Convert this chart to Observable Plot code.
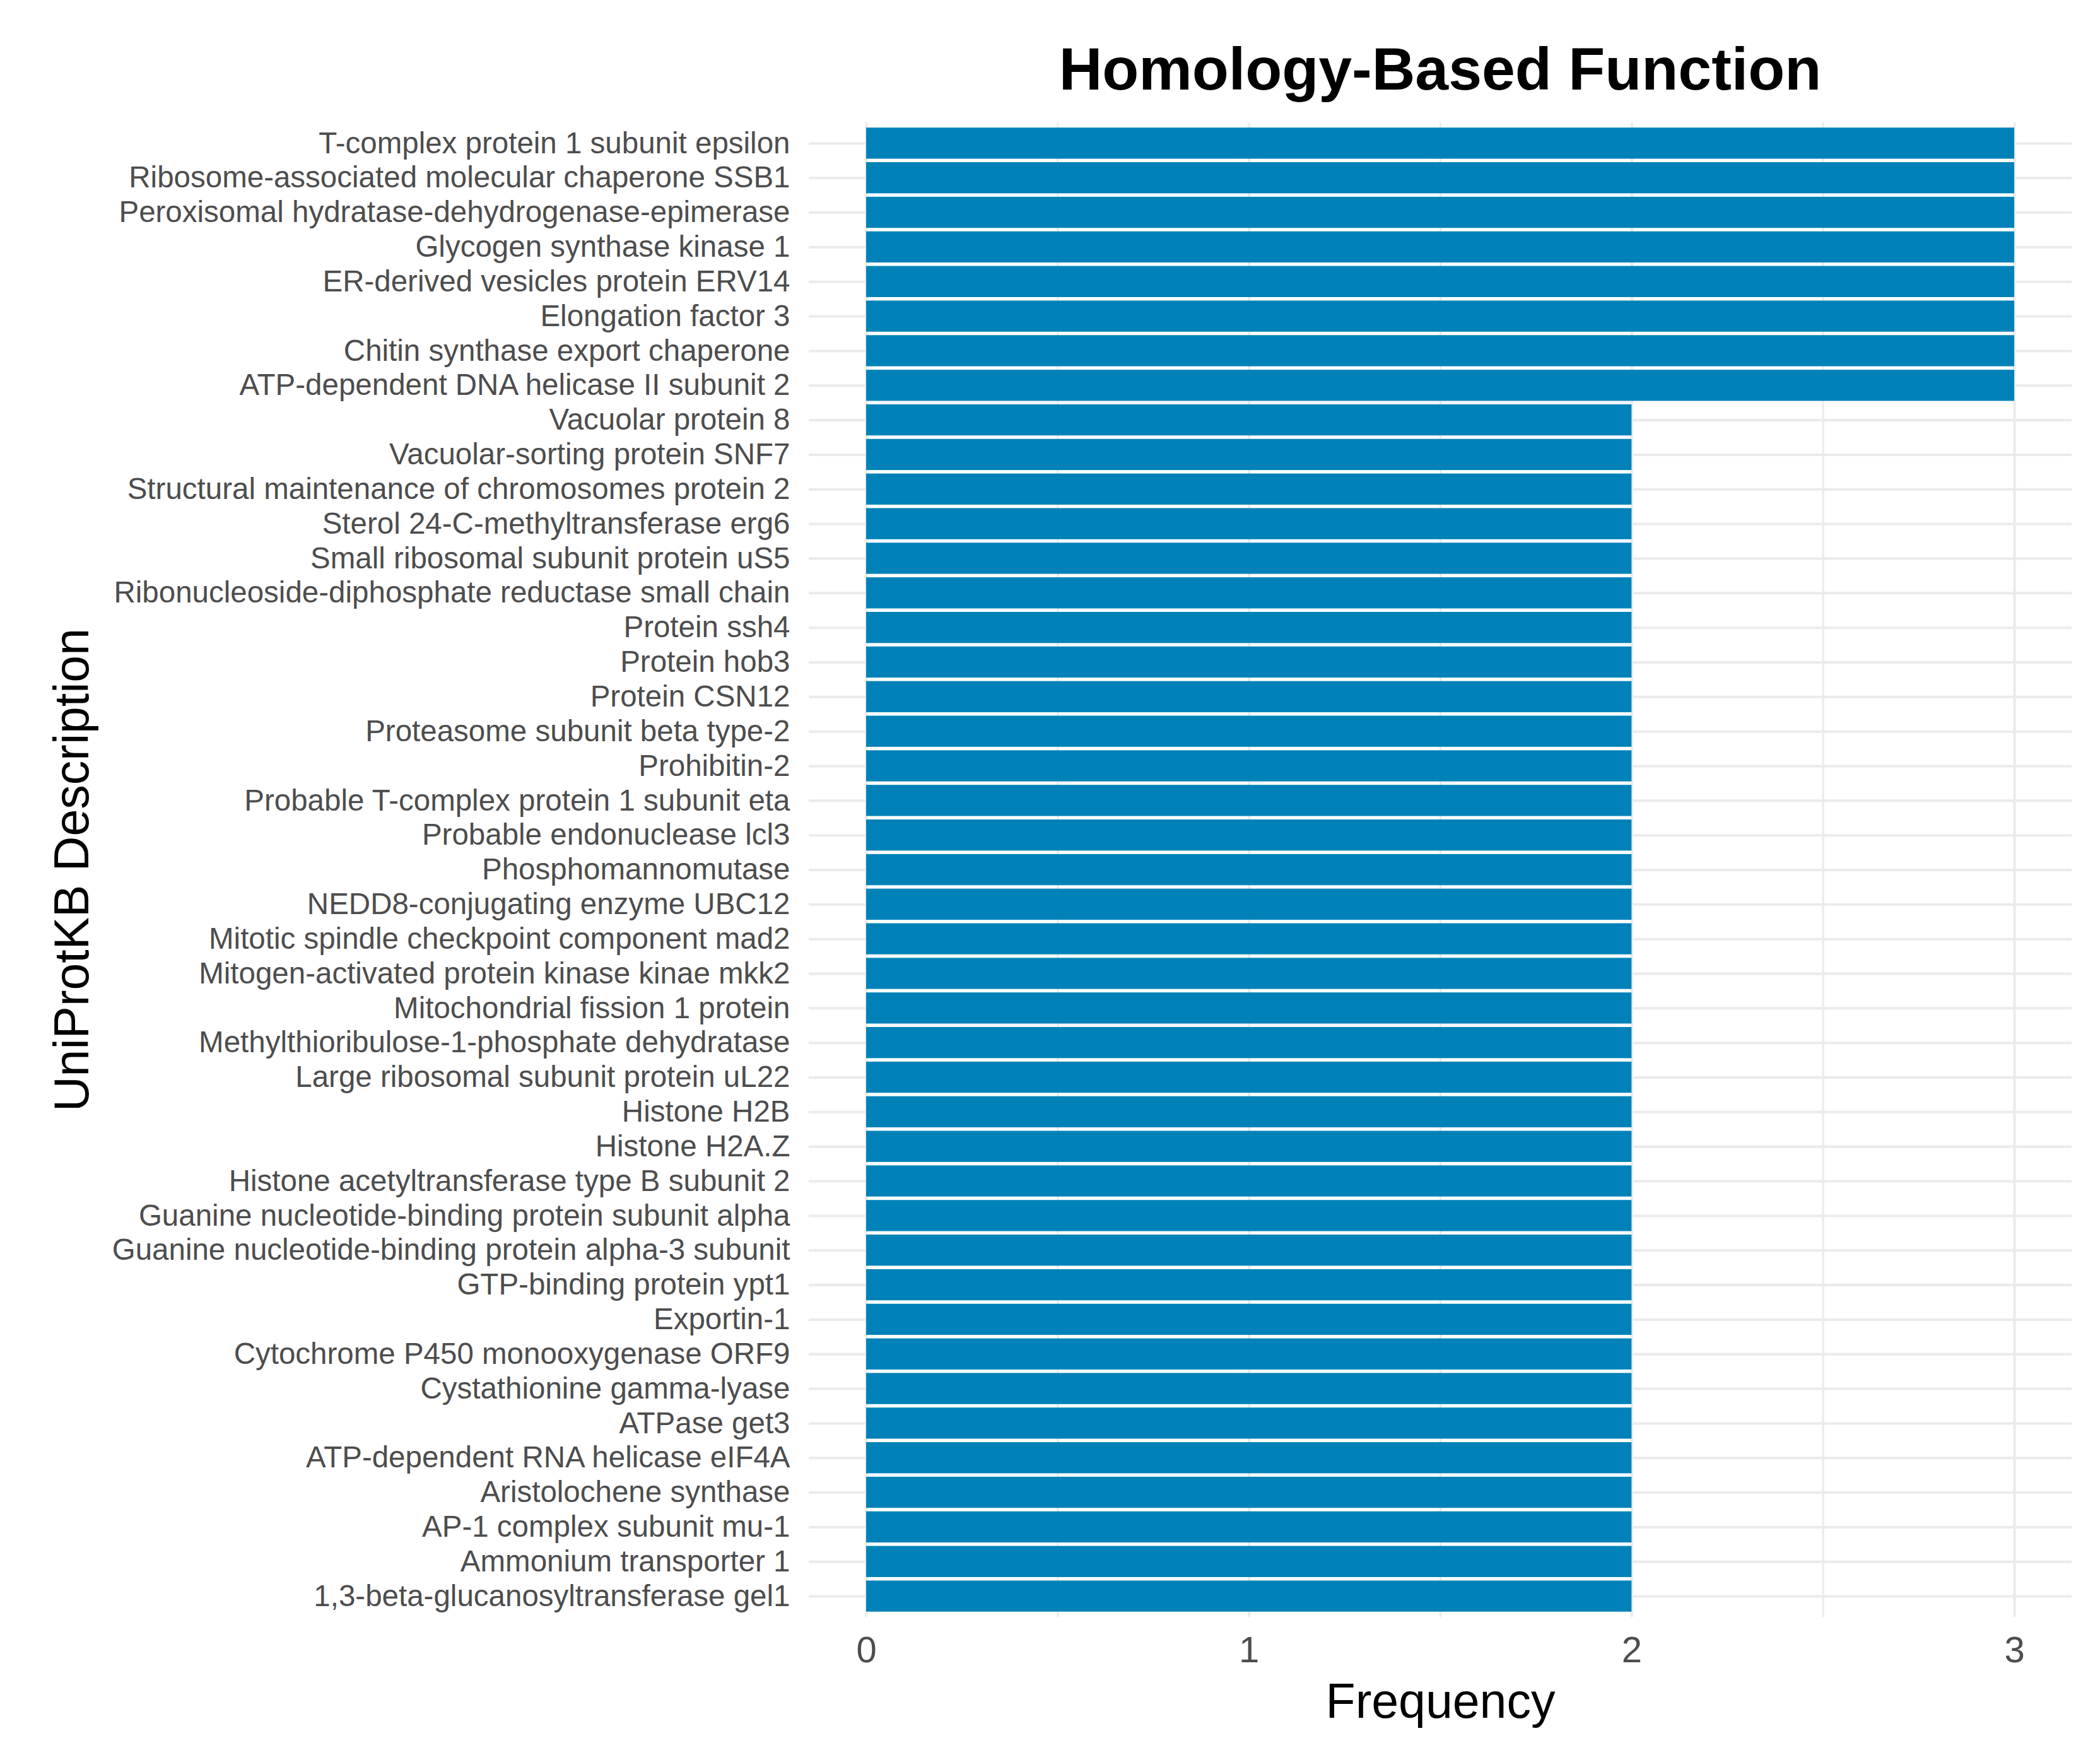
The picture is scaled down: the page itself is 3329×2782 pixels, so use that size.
<!DOCTYPE html>
<html><head><meta charset="utf-8">
<script src="https://cdn.jsdelivr.net/npm/d3@7"></script>
<script src="https://cdn.jsdelivr.net/npm/@observablehq/plot@0.6"></script>
<style>
body{margin:0;background:#fff;}
#title{position:relative;height:150px;width:3329px;}
#title span{position:absolute;left:1282px;width:2002px;top:62px;text-align:center;font:bold 95px 'Liberation Sans',Arial,sans-serif;line-height:95px;color:#000;white-space:nowrap;}
</style></head><body>
<div id="title"><span></span></div>
<div id="chart"></div>
<script>
const descriptions = [
  "T-complex protein 1 subunit epsilon",
  "Ribosome-associated molecular chaperone SSB1",
  "Peroxisomal hydratase-dehydrogenase-epimerase",
  "Glycogen synthase kinase 1",
  "ER-derived vesicles protein ERV14",
  "Elongation factor 3",
  "Chitin synthase export chaperone",
  "ATP-dependent DNA helicase II subunit 2",
  "Vacuolar protein 8",
  "Vacuolar-sorting protein SNF7",
  "Structural maintenance of chromosomes protein 2",
  "Sterol 24-C-methyltransferase erg6",
  "Small ribosomal subunit protein uS5",
  "Ribonucleoside-diphosphate reductase small chain",
  "Protein ssh4",
  "Protein hob3",
  "Protein CSN12",
  "Proteasome subunit beta type-2",
  "Prohibitin-2",
  "Probable T-complex protein 1 subunit eta",
  "Probable endonuclease lcl3",
  "Phosphomannomutase",
  "NEDD8-conjugating enzyme UBC12",
  "Mitotic spindle checkpoint component mad2",
  "Mitogen-activated protein kinase kinae mkk2",
  "Mitochondrial fission 1 protein",
  "Methylthioribulose-1-phosphate dehydratase",
  "Large ribosomal subunit protein uL22",
  "Histone H2B",
  "Histone H2A.Z",
  "Histone acetyltransferase type B subunit 2",
  "Guanine nucleotide-binding protein subunit alpha",
  "Guanine nucleotide-binding protein alpha-3 subunit",
  "GTP-binding protein ypt1",
  "Exportin-1",
  "Cytochrome P450 monooxygenase ORF9",
  "Cystathionine gamma-lyase",
  "ATPase get3",
  "ATP-dependent RNA helicase eIF4A",
  "Aristolochene synthase",
  "AP-1 complex subunit mu-1",
  "Ammonium transporter 1",
  "1,3-beta-glucanosyltransferase gel1"
];
const frequencies = [
  3, 3, 3, 3, 3, 3, 3, 3,
  2, 2, 2, 2, 2, 2, 2, 2, 2, 2, 2, 2, 2, 2, 2, 2, 2, 2, 2, 2,
  2, 2, 2, 2, 2, 2, 2, 2, 2, 2, 2, 2, 2, 2, 2
];
const xTicks = [0, 1, 2, 3];
const xMinorTicks = [0.5, 1.5, 2.5];
const chartTitle = "Homology-Based Function";
const xLabel = "Frequency";
const yLabel = "UniProtKB Description";

const data = descriptions.map((d, i) => ({description: d, frequency: frequencies[i]}));

const chart = Plot.plot({
  width: 3329,
  height: 2632,
  marginTop: 44,
  marginBottom: 219,
  marginLeft: 1282,
  marginRight: 45,
  style: {fontFamily: "'Liberation Sans', Arial, sans-serif", background: "#fff"},
  x: {domain: [-0.15, 3.15]},
  y: {domain: descriptions, paddingInner: 0.1, paddingOuter: 0.15},
  marks: [
    Plot.gridY({stroke: "#EBEBEB", strokeOpacity: 1, strokeWidth: 4}),
    Plot.gridX(xMinorTicks, {stroke: "#EBEBEB", strokeOpacity: 1, strokeWidth: 3}),
    Plot.gridX(xTicks, {stroke: "#EBEBEB", strokeOpacity: 1, strokeWidth: 4}),
    Plot.barX(data, {y: "description", x: "frequency", fill: "#0082B8"}),
    Plot.axisY({tickSize: 0, tickPadding: 30, fontSize: 47.5, color: "#4D4D4D", label: null}),
    Plot.axisX(xTicks, {tickSize: 0, tickPadding: 30, fontSize: 58, color: "#4D4D4D", tickFormat: "d", label: null}),
    Plot.text([xLabel], {frameAnchor: "bottom", dy: 159, textAnchor: "middle", lineAnchor: "bottom", fontSize: 77, fill: "#000"}),
    Plot.text([yLabel], {frameAnchor: "left", dx: -1167, rotate: -90, textAnchor: "middle", lineAnchor: "middle", fontSize: 77, fill: "#000"})
  ]
});
document.querySelector("#title span").textContent = chartTitle;
document.getElementById("chart").append(chart);
</script>
</body></html>
